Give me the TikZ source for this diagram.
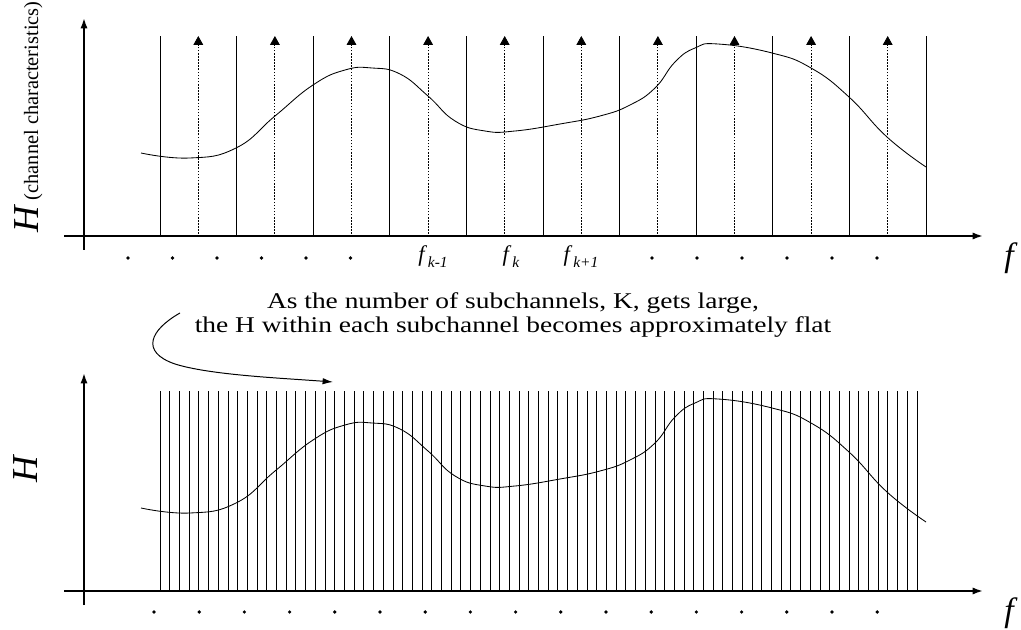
\documentclass[tikz,border=0pt]{standalone}
\usepackage{fontspec}
\setmainfont{Liberation Serif}
\newfontfamily\notefont[FakeStretch=1.22]{Liberation Serif}
\usetikzlibrary{arrows.meta}

\newcommand{\fsub}[1]{\textit{f}\kern0.6pt\raisebox{-0.55ex}{\fontsize{11}{12}\selectfont\itshape #1}}

\begin{document}
\begin{tikzpicture}[
    x=0.025cm, y=-0.025cm,
    axis/.style={line width=1.3pt, -{Latex[length=2.6mm,width=1.8mm]}},
    band/.style={line width=0.6pt},
    carrier/.style={line width=0.6pt, dash pattern=on 1.1pt off 1.1pt, -{Triangle[length=2.2mm,width=2.4mm]}},
    resp/.style={line width=0.6pt},
    bigH/.style={font=\fontsize{26}{28}\selectfont\itshape, rotate=90, anchor=base west, inner sep=0pt},
    flab/.style={font=\fontsize{24}{26}\selectfont\itshape, anchor=base, inner sep=0pt},
    fk/.style={font=\fontsize{16}{18}\selectfont, anchor=base, inner sep=0pt}
]
\useasboundingbox (0,0) rectangle (1021,630);

% axes
\foreach \s in {0,355} {
  \draw[axis] (84,250+\s) -- (84,18+\s);
  \draw[axis] (64,236+\s) -- (983,236+\s);
}

% top: 10 subchannels with carriers
\foreach \i in {0,...,10}
  \draw[band] (160+76.6*\i,236) -- (160+76.6*\i,36);
\foreach \i in {0,...,9}
  \draw[carrier] (198.3+76.6*\i,234) -- (198.3+76.6*\i,36);

% bottom: many subchannels
\foreach \i in {0,...,78}
  \draw[band] (160+9.705*\i,591) -- (160+9.705*\i,391);

% channel response
\foreach \s in {0,355}
  \draw[resp, shift={(0,\s)}] plot[smooth, tension=0.8] coordinates {(141,153) (190,158) (236,148) (275,116) (313,85) (345,70) (372,68) (400,74) (428,96) (455,121) (485,131) (515,131) (560,124) (600,116) (630,105) (655,88) (675,62) (695,48) (718,44) (772,53) (811,68) (849,97) (887,137) (926,167)};

% ellipsis dots
\foreach \i in {0,...,5} {
  \fill (128+44.5*\i,258) circle (1.3pt);
  \fill (652+45*\i,258) circle (1.3pt);
}
\foreach \i in {0,...,16}
  \fill (154+45.2*\i,612) circle (1.3pt);

% labels
\node[bigH] (hTop) at (38,233) {H\,\fontsize{14.5}{16}\selectfont\upshape (channel characteristics)};
\node[bigH] (hBot) at (37,483) {H};
\node[flab] (fTop) at (1009,267) {f};
\node[flab] (fBot) at (1009,621) {f};
\node[fk] (fkm) at (433,262) {\fsub{k-1}};
\node[fk] (fk0) at (511,262) {\fsub{k}};
\node[fk] (fkp) at (581,262) {\fsub{k+1}};

\node[font=\notefont\fontsize{16}{17.5}\selectfont, align=center] (note) at (513,315)
  {As the number of subchannels, K, gets large,\\the H within each subchannel becomes approximately flat};

\coordinate (bendFrom) at (180,313);
\coordinate (bendTo) at (333,382);
\draw[line width=0.7pt, -{Latex[length=2.6mm,width=1.6mm]}] (bendFrom) .. controls (150,330) and (140,352) .. (175,364) .. controls (210,375) and (280,378) .. (bendTo);
\end{tikzpicture}
\end{document}
